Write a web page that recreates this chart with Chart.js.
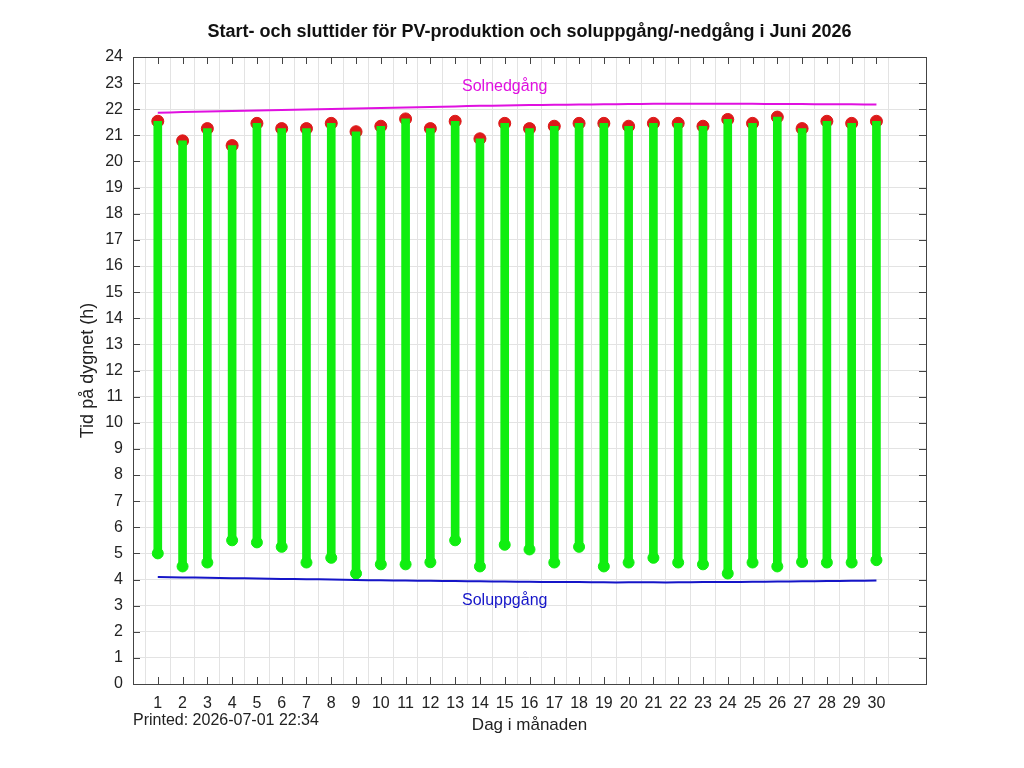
<!DOCTYPE html>
<html>
<head>
<meta charset="utf-8">
<script src="https://cdn.jsdelivr.net/npm/chart.js@4"></script>
<style>
  html, body { margin: 0; padding: 0; background: #fff; }
  #wrap { width: 1024px; height: 768px; }
</style>
</head>
<body>
<div id="wrap"><canvas id="myChart"></canvas></div>
<script>
const days = [1, 2, 3, 4, 5, 6, 7, 8, 9, 10, 11, 12, 13, 14, 15, 16, 17, 18, 19, 20, 21, 22, 23, 24, 25, 26, 27, 28, 29, 30]
const pvStart = [5.0, 4.5, 4.65, 5.5, 5.42, 5.25, 4.65, 4.83, 4.23, 4.58, 4.58, 4.66, 5.5, 4.5, 5.33,
                 5.15, 4.65, 5.25, 4.5, 4.65, 4.83, 4.65, 4.58, 4.23, 4.65, 4.5, 4.67, 4.65, 4.65, 4.74]
const pvEnd = [21.54, 20.79, 21.26, 20.61, 21.46, 21.26, 21.26, 21.46, 21.14, 21.35, 21.63, 21.26, 21.54, 20.87, 21.46,
               21.26, 21.35, 21.46, 21.46, 21.35, 21.46, 21.46, 21.35, 21.61, 21.46, 21.70, 21.26, 21.54, 21.46, 21.54]
const sunrise = [4.10, 4.08, 4.07, 4.05, 4.04, 4.02, 4.01, 4.00, 3.98, 3.97, 3.96, 3.95, 3.94, 3.93, 3.92,
                 3.91, 3.90, 3.90, 3.89, 3.89, 3.89, 3.89, 3.90, 3.90, 3.91, 3.92, 3.93, 3.94, 3.95, 3.96]
const sunset = [21.87, 21.89, 21.91, 21.93, 21.95, 21.97, 21.99, 22.01, 22.03, 22.05, 22.07, 22.09, 22.11, 22.13, 22.14,
                22.16, 22.17, 22.18, 22.19, 22.20, 22.21, 22.21, 22.21, 22.21, 22.21, 22.20, 22.20, 22.19, 22.19, 22.18]
const yTicks = [0, 1, 2, 3, 4, 5, 6, 7, 8, 9, 10, 11, 12, 13, 14, 15, 16, 17, 18, 19, 20, 21, 22, 23, 24]

const FONT = "'Liberation Sans', Arial, sans-serif"
const TITLE = 'Start- och sluttider för PV-produktion och soluppgång/-nedgång i Juni 2026'

// title over the plot, inward tick marks on all four sides, free text labels
const extras = {
    id: 'extras',
    afterDraw(chart) {
        const { ctx, chartArea: a, scales: { x, y } } = chart
        ctx.save()
        ctx.strokeStyle = '#444'
        ctx.lineWidth = 1
        ctx.beginPath()
        days.forEach(d => {
            const px = Math.round(x.getPixelForValue(d)) + 0.5
            ctx.moveTo(px, a.bottom); ctx.lineTo(px, a.bottom - 7)
            ctx.moveTo(px, a.top); ctx.lineTo(px, a.top + 7)
        })
        yTicks.forEach(v => {
            const py = Math.round(y.getPixelForValue(v)) + 0.5
            ctx.moveTo(a.left, py); ctx.lineTo(a.left + 7, py)
            ctx.moveTo(a.right, py); ctx.lineTo(a.right - 7, py)
        })
        ctx.stroke()
        ctx.strokeRect(a.left + 0.5, a.top + 0.5, a.right - a.left, a.bottom - a.top)

        ctx.textAlign = 'center'
        ctx.textBaseline = 'middle'
        ctx.font = 'bold 18px ' + FONT
        ctx.fillStyle = '#111'
        ctx.fillText(TITLE, (a.left + a.right) / 2, 32)

        ctx.font = '16px ' + FONT
        ctx.fillStyle = '#e010e0'
        ctx.fillText('Solnedgång', x.getPixelForValue(15), y.getPixelForValue(22.87))
        ctx.fillStyle = '#1515c8'
        ctx.fillText('Soluppgång', x.getPixelForValue(15), y.getPixelForValue(3.18))

        ctx.textAlign = 'left'
        ctx.fillStyle = '#222'
        ctx.fillText('Printed: 2026-07-01 22:34', a.left, 721)
        ctx.restore()
    }
}

const ctx = document.getElementById('myChart')

const myChart = new Chart(ctx, {
    type: 'bar',
    data: {
        datasets: [
            {
                type: 'scatter',
                label: 'slut',
                data: days.map((d, i) => ({ x: d, y: pvEnd[i] })),
                backgroundColor: '#dd1a1a',
                borderColor: '#dd1a1a',
                pointRadius: 6,
                order: 4
            },
            {
                label: 'produktion',
                data: days.map((d, i) => ({ x: d, y: [pvStart[i], pvEnd[i]] })),
                backgroundColor: '#10ee10',
                barThickness: 8,
                order: 3
            },
            {
                type: 'scatter',
                label: 'start',
                data: days.map((d, i) => ({ x: d, y: pvStart[i] })),
                backgroundColor: '#10ee10',
                borderColor: '#10ee10',
                pointRadius: 5.5,
                order: 2
            },
            {
                type: 'line',
                label: 'Solnedgång',
                data: days.map((d, i) => ({ x: d, y: sunset[i] })),
                borderColor: '#e010e0',
                borderWidth: 2,
                pointRadius: 0,
                tension: 0.3,
                order: 1
            },
            {
                type: 'line',
                label: 'Soluppgång',
                data: days.map((d, i) => ({ x: d, y: sunrise[i] })),
                borderColor: '#1515c8',
                borderWidth: 2,
                pointRadius: 0,
                tension: 0.3,
                order: 1
            }
        ]
    },
    options: {
        responsive: true,
        maintainAspectRatio: false,
        animation: false,
        layout: { padding: { left: 0, right: 98, top: 57, bottom: 0 } },
        plugins: {
            legend: { display: false },
            tooltip: { enabled: false },
            title: { display: false }
        },
        scales: {
            x: {
                type: 'linear',
                min: 0,
                max: 32,
                offset: false,
                afterBuildTicks: s => { s.ticks = days.map(v => ({ value: v })) },
                afterFit: s => { s.height = 84 },
                border: { display: false },
                grid: { color: '#e3e3e3', drawTicks: false },
                ticks: {
                    autoSkip: false,
                    maxRotation: 0,
                    padding: 10,
                    color: '#222',
                    font: { family: FONT, size: 16 }
                },
                title: {
                    display: true,
                    text: 'Dag i månaden',
                    color: '#222',
                    font: { family: FONT, size: 17 },
                    padding: { top: 0, bottom: 32 }
                }
            },
            y: {
                min: 0,
                max: 24,
                afterBuildTicks: s => { s.ticks = yTicks.map(v => ({ value: v })) },
                afterFit: s => { s.width = 133 },
                border: { display: false },
                grid: { color: '#e3e3e3', drawTicks: false },
                ticks: {
                    padding: 10,
                    color: '#222',
                    font: { family: FONT, size: 16 }
                },
                title: {
                    display: true,
                    text: 'Tid på dygnet (h)',
                    color: '#222',
                    font: { family: FONT, size: 18 },
                    padding: { top: 77, bottom: 0 }
                }
            }
        }
    },
    plugins: [extras]
})
</script>
</body>
</html>
